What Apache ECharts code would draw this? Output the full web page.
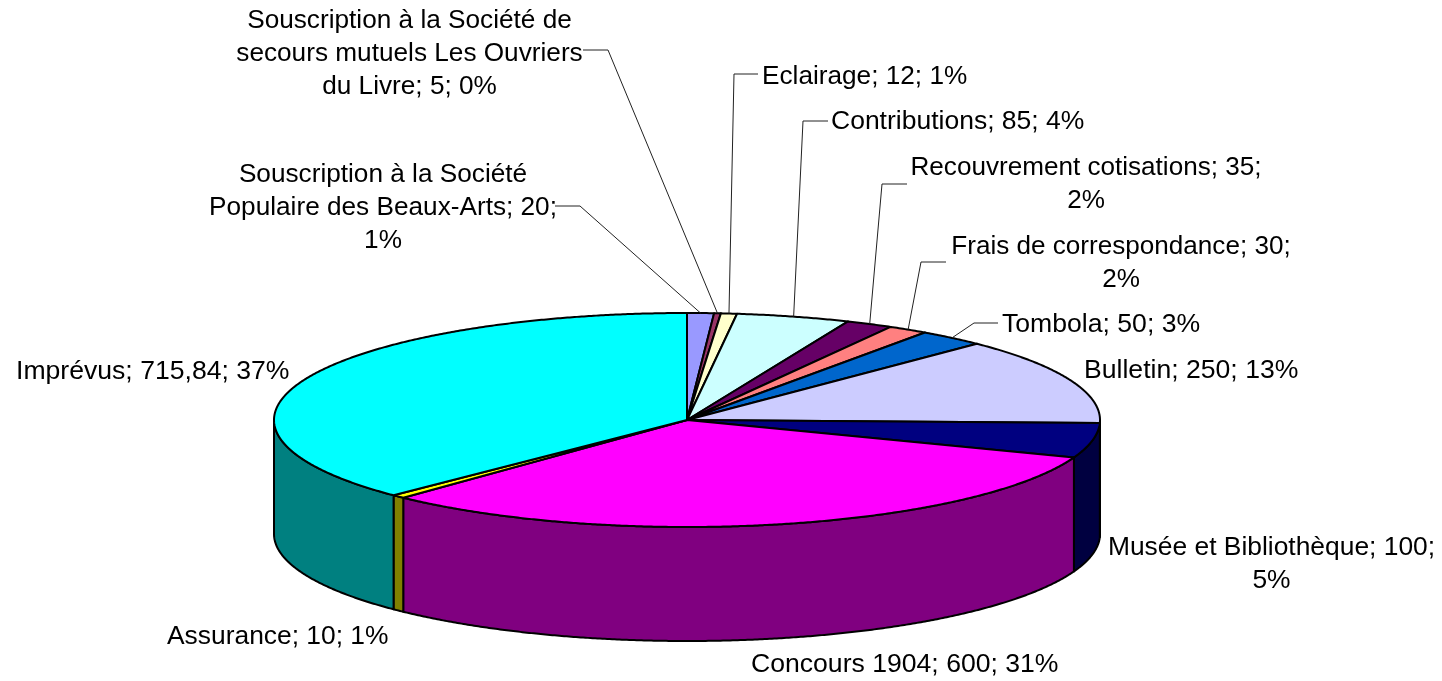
<!DOCTYPE html>
<html><head><meta charset="utf-8">
<style>html,body{margin:0;padding:0;background:#fff}#c{width:1442px;height:681px}</style>
<script src="https://cdn.jsdelivr.net/npm/echarts@6/dist/echarts.min.js"></script>
</head><body><div id="c"></div>
<script>
// Data
var names = ['Souscription à la Société Populaire des Beaux-Arts','Souscription à la Société de secours mutuels Les Ouvriers du Livre','Eclairage','Contributions','Recouvrement cotisations','Frais de correspondance','Tombola','Bulletin','Musée et Bibliothèque','Concours 1904','Assurance','Imprévus'];
var values = [20,5,12,85,35,30,50,250,100,600,10,715.84];
var labelLines = [
 ['Souscription à la Société','Populaire des Beaux-Arts; 20;','1%'],
 ['Souscription à la Société de','secours mutuels Les Ouvriers','du Livre; 5; 0%'],
 ['Eclairage; 12; 1%'],
 ['Contributions; 85; 4%'],
 ['Recouvrement cotisations; 35;','2%'],
 ['Frais de correspondance; 30;','2%'],
 ['Tombola; 50; 3%'],
 ['Bulletin; 250; 13%'],
 ['Musée et Bibliothèque; 100;','5%'],
 ['Concours 1904; 600; 31%'],
 ['Assurance; 10; 1%'],
 ['Imprévus; 715,84; 37%']
];
var topColors = ['#9999FF','#993366','#FFFFCC','#CCFFFF','#660066','#FF8080','#0066CC','#CCCCFF','#000080','#FF00FF','#FFFF00','#00FFFF'];
var sideColors = ['#4D4D80','#4D1A33','#808066','#668080','#330033','#804040','#003366','#666680','#000040','#800080','#808000','#008080'];
// Layout (pixels)
var CX=687, CY=420, RX=413, RY=107, DEPTH=114;
var LINE_H=32.8;
var fontSizes=[26.2,26.2,26.2,26.5,26.1,26.1,26.6,26.6,26.4,26.6,26.4,26.6];
// x, y of first line centre, text alignment
var labelPos = [[383,175,'center'],[409.5,21,'center'],[762,77,'left'],[831,122,'left'],[1086,168,'center'],[1121,247,'center'],[1002,325,'left'],[1084,371,'left'],[1271.5,548,'center'],[751,665,'left'],[167,637,'left'],[16,372,'left']];
// leader: start of line at label, elbow
var leaders = [[[555,206],[580,206]],[[583,50],[608,50]],[[758,74],[734,74]],[[828,121],[803,121]],[[907,184],[882,184]],[[946,262],[921,262]],[[998,323],[974,323]],null,null,null,null,null];

var total = values.reduce(function(a,b){return a+b;},0);
var cum=[0]; values.forEach(function(v,i){cum.push(cum[i]+v);});
function rim(t,dy){return [CX+RX*Math.sin(t), CY-RY*Math.cos(t)+(dy||0)];}
function arc(a,b,dy){var n=Math.max(2,Math.ceil(Math.abs(b-a)/0.006)),p=[];for(var i=0;i<=n;i++)p.push(rim(a+(b-a)*i/n,dy));return p;}

function renderItem(params, api){
  var i=params.dataIndex, v=api.value(0);
  var a=cum[i]/total*2*Math.PI, b=(cum[i]+v)/total*2*Math.PI;
  var ch=[];
  // visible outer wall: the part of the slice between 90 and 270 degrees
  var s=Math.max(a,Math.PI/2), e=Math.min(b,Math.PI*1.5);
  if(e>s){
    ch.push({type:'polygon',shape:{points:arc(s,e,0).concat(arc(e,s,DEPTH))},
      style:{fill:sideColors[i],stroke:'#000',lineWidth:2,lineJoin:'round'}});
  }
  ch.push({type:'polygon',shape:{points:[[CX,CY]].concat(arc(a,b,0))},
    style:{fill:topColors[i],stroke:'#000',lineWidth:2,lineJoin:'round'}});
  var L=leaders[i];
  if(L){
    ch.push({type:'polyline',shape:{points:[L[0],L[1],rim((a+b)/2,0)]},z2:5,
      style:{fill:null,stroke:'#222',lineWidth:1}});
  }
  var P=labelPos[i];
  labelLines[i].forEach(function(t,k){
    ch.push({type:'text',z2:6,style:{text:t,x:P[0],y:P[1]+k*LINE_H,textAlign:P[2],textVerticalAlign:'middle',font:fontSizes[i]+'px "Liberation Sans", Arial, sans-serif',fill:'#000'}});
  });
  return {type:'group',children:ch};
}
var chart=echarts.init(document.getElementById('c'),null,{renderer:'canvas'});
chart.setOption({animation:false,backgroundColor:'#fff',
  series:[{type:'custom',coordinateSystem:'none',silent:true,renderItem:renderItem,
    data:values.map(function(v,i){return {name:names[i],value:[v]};})}]});
</script></body></html>
